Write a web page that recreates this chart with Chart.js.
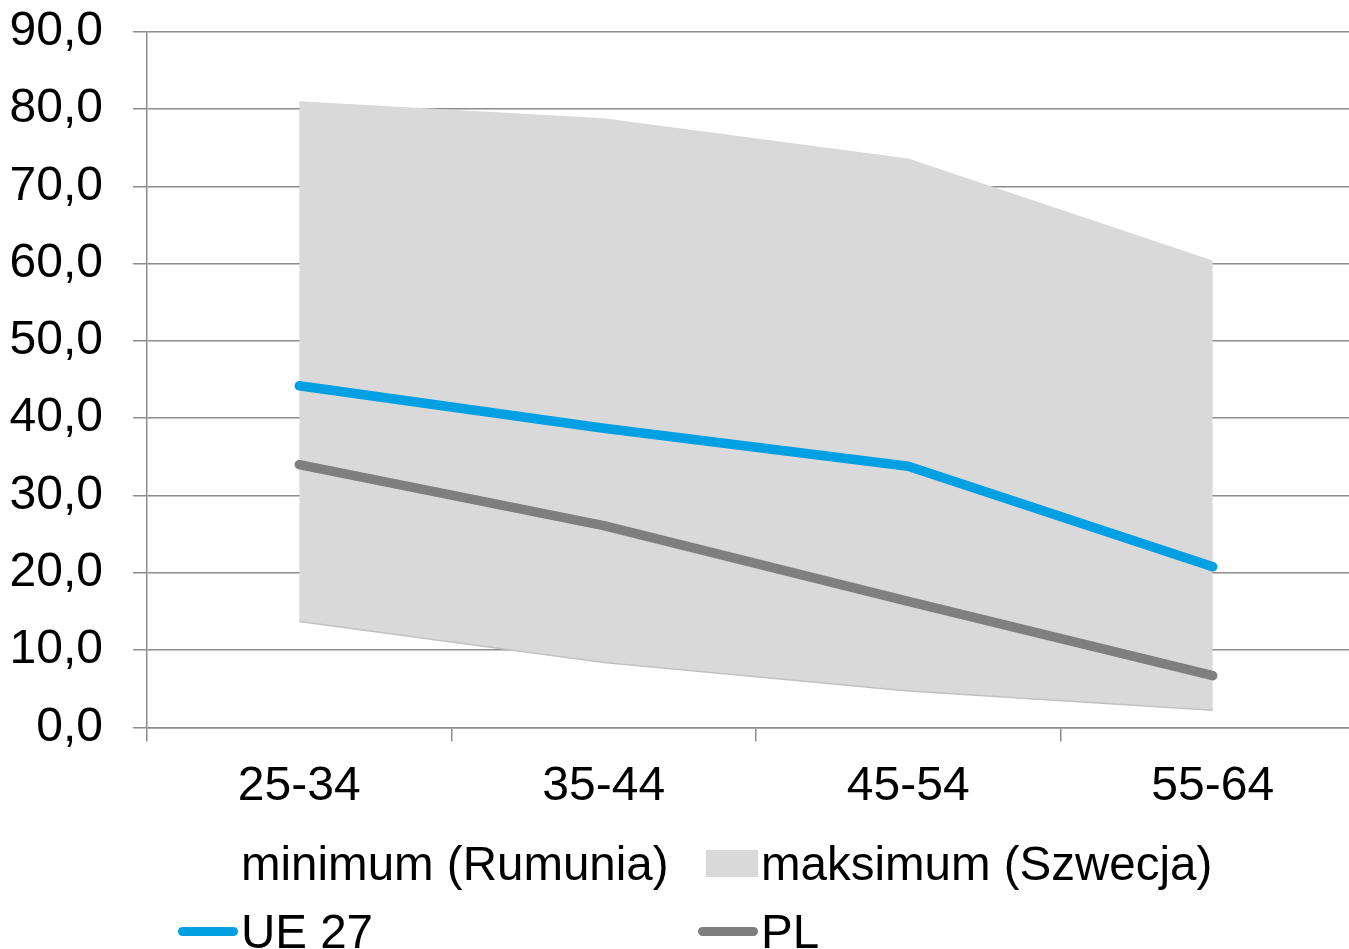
<!DOCTYPE html>
<html>
<head>
<meta charset="utf-8">
<script src="https://cdn.jsdelivr.net/npm/chart.js@4"></script>
<style>
    html, body { margin: 0; padding: 0; background: #fff; overflow: hidden; width: 1349px; height: 949px; }
    #wrap { position: absolute; left: 0; top: -27px; width: 1380px; height: 860px; }
    #legend { position: absolute; left: 0; top: 0; width: 1349px; height: 949px; pointer-events: none;
        font-family: 'Liberation Sans', Arial, sans-serif; font-size: 47.5px; color: #000; }
    .item { position: absolute; display: flex; align-items: center; height: 56px; white-space: nowrap; }
    .sw { width: 60px; margin-right: 3px; flex: none; display: flex; align-items: center; justify-content: flex-end; }
</style>
</head>
<body>
<div id="wrap"><canvas id="chart"></canvas></div>
<div id="legend"></div>
<script>
Chart.defaults.font.family = "'Liberation Sans', Arial, sans-serif";
Chart.defaults.color = '#000';

const categories = ['25-34', '35-44', '45-54', '55-64'];
const minimum = [13.8, 8.5, 4.8, 2.3];     // Rumunia
const maksimum = [81.0, 78.8, 73.6, 60.4]; // Szwecja
const ue27 = [44.2, 38.7, 33.8, 20.8];
const pl = [34.0, 26.1, 16.3, 6.7];
const seriesNames = ['minimum (Rumunia)', 'maksimum (Szwecja)', 'UE 27', 'PL'];

const gridColor = '#8c8c8c';

const chart = new Chart(document.getElementById('chart'), {
    type: 'line',
    data: {
        labels: categories,
        datasets: [
            {
                label: seriesNames[0], data: minimum, order: 4,
                borderColor: '#c2c2c2', borderWidth: 3, pointRadius: 0, fill: false,
            },
            {
                label: seriesNames[1], data: maksimum, order: 3,
                borderWidth: 0, borderColor: 'rgba(0,0,0,0)', pointRadius: 0,
                backgroundColor: '#d9d9d9', fill: '-1',
            },
            {
                label: seriesNames[2], data: ue27, order: 0,
                borderColor: '#00a0e3', borderWidth: 9.5, pointRadius: 0,
                borderCapStyle: 'round', borderJoinStyle: 'round', fill: false,
            },
            {
                label: seriesNames[3], data: pl, order: 1,
                borderColor: '#7f7f7f', borderWidth: 9.5, pointRadius: 0,
                borderCapStyle: 'round', borderJoinStyle: 'round', fill: false,
            },
        ]
    },
    options: {
        responsive: true,
        maintainAspectRatio: false,
        animation: false,
        layout: { padding: { left: 0, right: 15, top: 0, bottom: 0 } },
        plugins: { legend: { display: false }, tooltip: { enabled: false } },
        scales: {
            x: {
                offset: true,
                grid: { offset: true, drawOnChartArea: false, drawTicks: true, tickLength: 14, color: gridColor, lineWidth: 1.5 },
                border: { display: true, color: gridColor, width: 1.5 },
                ticks: { font: { size: 48 }, padding: 17, maxRotation: 0 }
            },
            y: {
                min: 0, max: 90,
                afterFit: (scale) => { scale.width = 147; },
                grid: { color: gridColor, lineWidth: 1.5, tickLength: 14 },
                border: { display: true, color: gridColor, width: 1.5 },
                ticks: {
                    stepSize: 10, padding: 30, font: { size: 48 },
                    callback: (v) => v.toFixed(1).replace('.', ',')
                }
            }
        }
    }
});

// ── Legend (two columns, Excel style) ─────────────────────────────
const legend = document.getElementById('legend');
const cols = [178, 698];
const rows = [835, 903];
chart.data.datasets.forEach((ds, i) => {
    const item = document.createElement('div');
    item.className = 'item';
    item.style.left = cols[i % 2] + 'px';
    item.style.top = rows[Math.floor(i / 2)] + 'px';
    const sw = document.createElement('div');
    sw.className = 'sw';
    const mark = document.createElement('div');
    if (i === 0) {
        mark.style.cssText = 'width:52px;height:27px;background:#fff;';
    } else if (i === 1) {
        mark.style.cssText = 'width:52px;height:27px;background:' + ds.backgroundColor + ';';
    } else {
        mark.style.cssText = 'width:60px;height:9px;border-radius:5px;background:' + ds.borderColor + ';';
    }
    sw.appendChild(mark);
    const txt = document.createElement('span');
    txt.textContent = ds.label;
    item.appendChild(sw);
    item.appendChild(txt);
    legend.appendChild(item);
});
</script>
</body>
</html>
